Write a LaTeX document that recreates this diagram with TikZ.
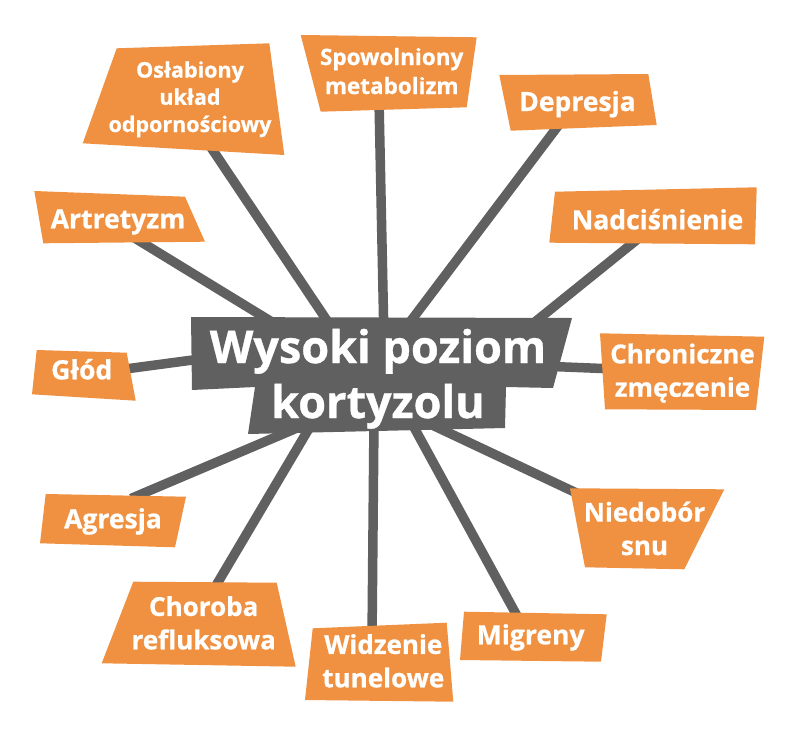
\documentclass[tikz,border=0pt]{standalone}
\usepackage{fontspec}
\setmainfont{Open Sans}[BoldFeatures={FakeBold=0.8}]
\definecolor{boxorange}{RGB}{239,145,64}
\definecolor{hubgray}{RGB}{96,96,96}
\begin{document}
\begin{tikzpicture}[x=1pt,y=-1pt,
  conn/.style={draw=hubgray,line width=9.5pt},
  boxfill/.style={fill=boxorange},
  hubfill/.style={fill=hubgray},
  lbl/.style={text=white,align=center,inner sep=0pt,anchor=base},
  big/.style={lbl,font=\bfseries\fontsize{26.5}{34}\selectfont},
  mid/.style={lbl,font=\bfseries\fontsize{26}{33.4}\selectfont},
  sml/.style={lbl,font=\bfseries\fontsize{22.5}{29}\selectfont},
  tiny/.style={lbl,font=\bfseries\fontsize{21.5}{27.2}\selectfont},
  hub/.style={lbl,font=\bfseries\fontsize{45}{55}\selectfont}]
\useasboundingbox (0,0) rectangle (788,731);
% connector ends
\coordinate (e1) at (206,140);   \coordinate (h1) at (340,340);
\coordinate (e2) at (379,100);   \coordinate (h2) at (384,340);
\coordinate (e3) at (564,118);   \coordinate (h3) at (404,330);
\coordinate (e4) at (644,234);   \coordinate (h4) at (520,334);
\coordinate (e5) at (615,369);   \coordinate (h5) at (540,366);
\coordinate (e6) at (585,497);   \coordinate (h6) at (430,424);
\coordinate (e7) at (522,625);   \coordinate (h7) at (410,420);
\coordinate (e8) at (372,640);   \coordinate (h8) at (374,420);
\coordinate (e9) at (211,594);   \coordinate (h9) at (314,420);
\coordinate (e10) at (131,498.5); \coordinate (h10) at (330,414);
\coordinate (e11) at (118,370);  \coordinate (h11) at (230,355);
\coordinate (e12) at (133,237);  \coordinate (h12) at (290,333);
\foreach \i in {1,...,12} {\draw[conn] (h\i) -- (e\i);}
% orange boxes
\fill[boxfill] (116.7,48.3) -- (269.3,43.3) -- (284.3,155) -- (82.7,143.3) -- cycle;
\fill[boxfill] (300.7,35) -- (476.7,37.3) -- (466.7,107.3) -- (320.7,111.7) -- cycle;
\fill[boxfill] (499.3,75) -- (648.3,74) -- (656.7,125) -- (510.7,130.7) -- cycle;
\fill[boxfill] (555,191.7) -- (756.7,187.3) -- (755,244.3) -- (549.3,242.7) -- cycle;
\fill[boxfill] (600,333.3) -- (764.3,336.7) -- (756,410) -- (605,409.3) -- cycle;
\fill[boxfill] (570,488.3) -- (724.3,489.3) -- (684.3,569.3) -- (585,567.3) -- cycle;
\fill[boxfill] (464,611.7) -- (606.7,614.3) -- (601,661.7) -- (460,660) -- cycle;
\fill[boxfill] (312.7,628.3) -- (446.7,622.7) -- (453.3,701.7) -- (305,700) -- cycle;
\fill[boxfill] (133.3,581.7) -- (276.7,582.7) -- (295.7,666.7) -- (101.7,663.3) -- cycle;
\fill[boxfill] (45.7,494) -- (186,496.7) -- (175,547.3) -- (40,543.3) -- cycle;
\fill[boxfill] (36.7,350) -- (126.7,352.7) -- (135.7,400.7) -- (32,394.3) -- cycle;
\fill[boxfill] (34.3,191) -- (185,196.7) -- (205,241.7) -- (43.3,243.3) -- cycle;
% central shape
\fill[hubfill] (191,317) -- (572,318) -- (553,388) -- (506,387) -- (505,428)
  -- (248,434) -- (255,387) -- (192,390) -- cycle;
% texts (anchor = baseline of the last line)
\node[hub] (hubtext) at (378,418) {Wysoki poziom\\kortyzolu};
\node[tiny] (t1) at (190,132) {Osłabiony\\układ\\odpornościowy};
\node[sml] (t2) at (391.7,94) {Spowolniony\\metabolizm};
\node[big] (t3) at (577.5,111) {Depresja};
\node[big] (t4) at (657.5,229.3) {Nadciśnienie};
\node[mid] (t5) at (682.5,396.7) {Chroniczne\\zmęczenie};
\node[mid] (t6) at (644.5,555) {Niedobór\\snu};
\node[big] (t7) at (530.7,644.3) {Migreny};
\node[mid] (t8) at (383.3,687.3) {Widzenie\\tunelowe};
\node[mid] (t9) at (203.7,649.3) {Choroba\\refluksowa};
\node[big] (t10) at (113,528.3) {Agresja};
\node[big] (t11) at (81.7,379.3) {Głód};
\node[big] (t12) at (118,228.3) {Artretyzm};
\end{tikzpicture}
\end{document}
